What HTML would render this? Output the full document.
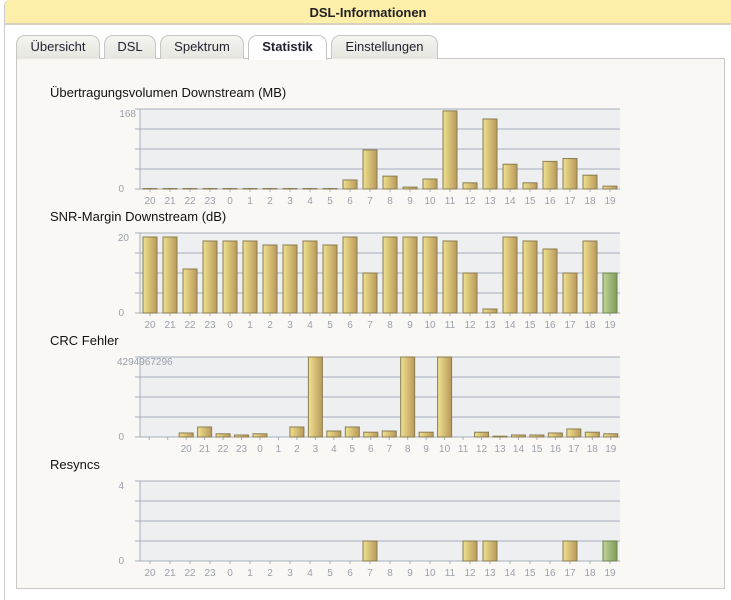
<!DOCTYPE html>
<html><head><meta charset="utf-8">
<style>
*{box-sizing:border-box;margin:0;padding:0}
body{width:731px;height:591px;background:#fff;font-family:"Liberation Sans",Arial,sans-serif;position:relative;overflow:hidden}
#frame{position:absolute;left:4px;top:0;width:740px;height:600px;border-left:1px solid #ccc;border-top:1px solid #e8d890;border-radius:6px 0 0 0}
#hdr{position:absolute;left:5px;top:0;width:726px;height:25px;background:#fdeeaa;border-bottom:2px solid #d6d0bc;text-align:center;font-weight:bold;font-size:13px;line-height:25px;color:#222;border-radius:6px 0 0 0}
.tab{position:absolute;top:35px;height:24px;border:1px solid #c4c4c0;border-bottom:none;border-radius:9px 9px 0 0;background:linear-gradient(#f4f4f0,#e6e6e0);font-size:13px;text-align:center;line-height:22px;color:#223}
.tab.act{background:#fff;font-weight:bold;height:25px;z-index:2}
#panel{position:absolute;left:16px;top:58px;width:709px;height:531px;border:1px solid #c8c8c4;background:#f9f8f4}
.ttl{position:absolute;left:50px;font-size:13px;color:#111}
svg{position:absolute;left:0;top:0}
</style></head><body>
<div id="frame"></div>
<div id="hdr">DSL-Informationen</div>
<div id="panel"></div>
<div class="tab" style="left:16px;width:84px">Übersicht</div>
<div class="tab" style="left:104px;width:52px">DSL</div>
<div class="tab" style="left:160px;width:84px">Spektrum</div>
<div class="tab act" style="left:248px;width:79px">Statistik</div>
<div class="tab" style="left:331px;width:107px">Einstellungen</div>
<div class="ttl" style="top:85px">Übertragungsvolumen Downstream (MB)</div>
<div class="ttl" style="top:209px">SNR-Margin Downstream (dB)</div>
<div class="ttl" style="top:333px">CRC Fehler</div>
<div class="ttl" style="top:457px">Resyncs</div>
<svg id="svg" width="731" height="591" xmlns="http://www.w3.org/2000/svg">
<defs>
<linearGradient id="gold" x1="0" x2="1" y1="0" y2="0"><stop offset="0" stop-color="#f0e290"/><stop offset="1" stop-color="#b8985a"/></linearGradient>
<linearGradient id="green" x1="0" x2="1" y1="0" y2="0"><stop offset="0" stop-color="#c4d498"/><stop offset="1" stop-color="#7e9a5a"/></linearGradient>
</defs>
</svg>
<script>
const hours = ["20","21","22","23","0","1","2","3","4","5","6","7","8","9","10","11","12","13","14","15","16","17","18","19"];
const crcHours = ["","","20","21","22","23","0","1","2","3","4","5","6","7","8","9","10","11","12","13","14","15","16","17","18","19"];
const volumeValues = [1,1,1,1,1,1,1,1,1,1,19,82,27,4,21,164,13,147,52,13,58,64,29,6];
const volumeTicks = ["0","168"];
const volumeMax = 168;
const snrValues = [19,19,11,18,18,18,17,17,18,17,19,10,19,19,19,18,10,1,19,18,16,10,18,10];
const snrTicks = ["0","20"];
const snrMax = 20;
const crcValues = [0,0,215000000,537000000,172000000,107000000,172000000,0,537000000,4294967296,322000000,537000000,258000000,322000000,4294967296,258000000,4294967296,0,258000000,43000000,107000000,107000000,215000000,430000000,258000000,172000000];
const crcTicks = ["0","4294967296"];
const crcMax = 4294967296;
const resyncValues = [0,0,0,0,0,0,0,0,0,0,0,1,0,0,0,0,1,1,0,0,0,1,0,1];
const resyncTicks = ["0","4"];
const resyncMax = 4;

const NS="http://www.w3.org/2000/svg";
const svg=document.getElementById('svg');
function mk(tag,attrs){const e=document.createElementNS(NS,tag);for(const k in attrs)e.setAttribute(k,attrs[k]);svg.appendChild(e);return e;}

function chart(name,cats,vals,ticks,max,top,bottom,lastGreen,tickX){
  const L=140,R=620;
  const bg=mk('rect',{x:L,y:top,width:R-L,height:bottom-top,fill:'#eeeff1'});
  
  
  for(let i=0;i<=4;i++){
    const y=top+(bottom-top)*i/4;
    const g=mk('line',{x1:L-5,x2:R,y1:y,y2:y,stroke:'#a6aebb','stroke-width':1});
    
    
  }
  const ax=mk('line',{x1:L,x2:L,y1:top,y2:bottom,stroke:'#a6aebb','stroke-width':1});
  
  
  const n=cats.length, w=(R-L)/n;
  const ys=v=>bottom-(v/max)*(bottom-top);
  for(let i=0;i<n;i++){
    const cx=L+w*(i+0.5);
    if(cats[i]!==""){
      const t=mk('text',{x:cx,y:bottom+15,'text-anchor':'middle','font-size':10,fill:'#9aa0ac','font-family':'Liberation Sans, sans-serif'});
      t.textContent=cats[i];
      
      
    }
    const tk=mk('line',{x1:cx,x2:cx,y1:bottom,y2:bottom+3,stroke:'#a6aebb'});
    
    
    if(vals[i]>0){
      const bw=Math.min(14,w-4);
      const y=ys(vals[i]);
      const green=lastGreen&&i===n-1;
      const b=mk('rect',{x:cx-bw/2,y:y,width:bw,height:bottom-y,fill:green?'url(#green)':'url(#gold)',stroke:green?'#6e8450':'#8c7c50','stroke-width':1});
      
      
    }
  }
  const t0=mk('text',{x:124,y:bottom+3,'text-anchor':'end','font-size':10,fill:'#9aa0ac','font-family':'Liberation Sans, sans-serif'});
  t0.textContent=ticks[0];
  
  
  const t1=mk('text',{x:tickX.x,y:top+8,'text-anchor':tickX.a,'font-size':10,fill:'#9aa0ac','font-family':'Liberation Sans, sans-serif'});
  t1.textContent=ticks[1];
  
  
}
chart('volume',hours,volumeValues,volumeTicks,volumeMax,109,189,false,{x:136,a:'end'});
chart('snr',hours,snrValues,snrTicks,snrMax,233,313,true,{x:129,a:'end'});
chart('crc',crcHours,crcValues,crcTicks,crcMax,357,437,false,{x:117,a:'start'});
chart('resyncs',hours,resyncValues,resyncTicks,resyncMax,481,561,true,{x:124,a:'end'});
</script>
</body></html>
